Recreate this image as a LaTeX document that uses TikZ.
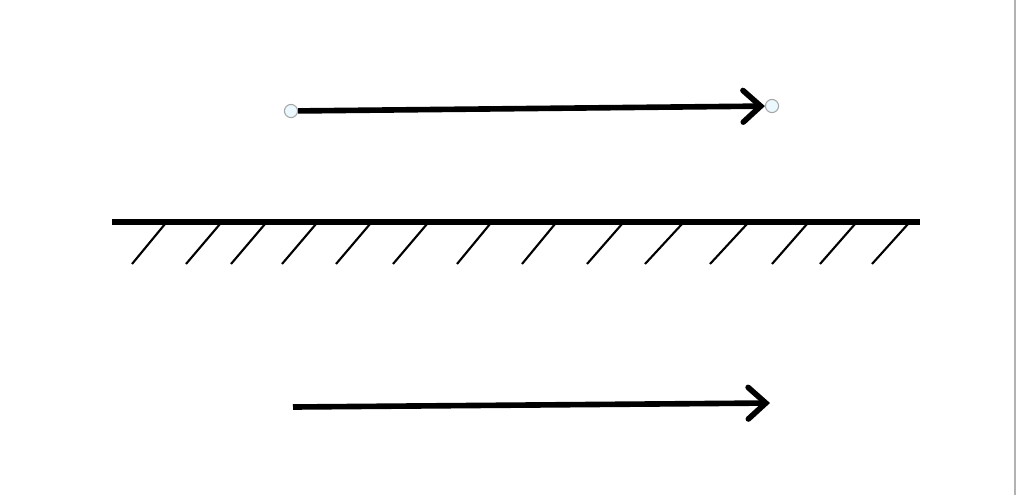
\documentclass[tikz,border=0pt]{standalone}
\usepackage{tikz}
\usetikzlibrary{arrows.meta}

\begin{document}
\begin{tikzpicture}
[x=.02cm,y=-.02cm,
 vec/.style={line width=3.2pt,-{Straight Barb[length=10pt,width=18pt,line width=3.2pt,line cap=round]}},
 handle/.style={circle,draw=gray!70,fill=cyan!8,line width=.6pt,inner sep=0pt,minimum size=7.5pt},
 hatch/.style={line width=1.2pt}]
\useasboundingbox (0,0) rectangle (1024,495);

\node[handle] (p1) at (291,111) {};
\node[handle] (p2) at (772,106) {};
\coordinate (q1) at (293,407);
\coordinate (q2) at (770,403);
\coordinate (g1) at (112,222);
\coordinate (g2) at (920,222);

\draw[vec] (p1) -- (p2);
\draw[vec] (q1) -- (q2);

\draw[line width=3.2pt] (g1) -- (g2);
\foreach \t/\b in {165/132,220/186,265/231,316/282,370/336,427/393,490/457,555/522,622/587,682/645,747/710,807/772,855/820,908/872}
\draw[hatch] (\t,224) -- (\b,264);

\draw[gray!60,line width=.6pt] (1015,0) -- (1015,495);
\end{tikzpicture}
\end{document}
